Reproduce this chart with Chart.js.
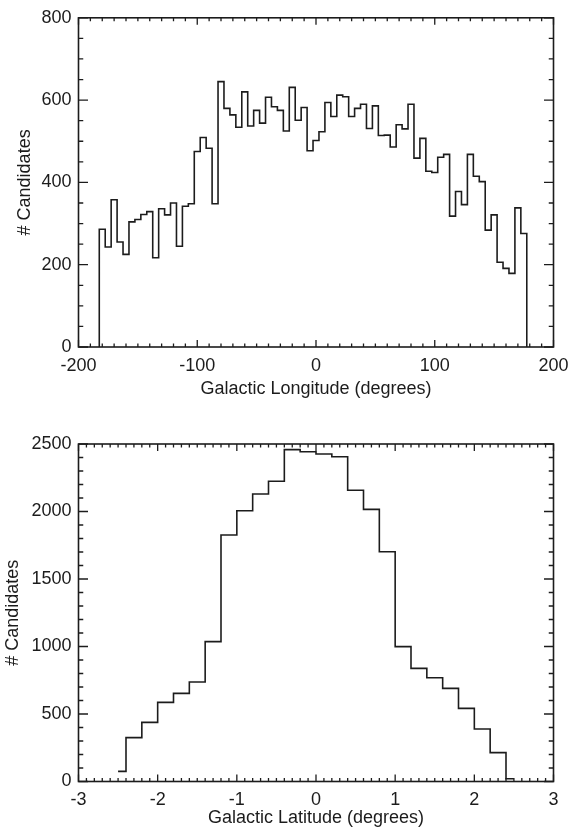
<!DOCTYPE html>
<html>
<head>
<meta charset="utf-8">
<title>Candidates by galactic longitude and latitude</title>
<script src="https://cdn.jsdelivr.net/npm/chart.js@4.4.0/dist/chart.umd.min.js"></script>
<style>
  html, body { margin: 0; padding: 0; background: #fff; overflow: hidden; }
  #wrap { position: relative; width: 580px; height: 830px; }
  canvas { position: absolute; left: 0; }
  #lonChart { top: 0; }
  #latChart { top: 400px; }
</style>
</head>
<body>
<div id="wrap">
  <canvas id="lonChart" width="580" height="400"></canvas>
  <canvas id="latChart" width="580" height="430"></canvas>
</div>
<script>
// data
const lonCenters = [
  -180, -175, -170, -165, -160, -155, -150, -145, -140, -135, -130, -125,
  -120, -115, -110, -105, -100, -95, -90, -85, -80, -75, -70, -65,
  -60, -55, -50, -45, -40, -35, -30, -25, -20, -15, -10, -5,
  0, 5, 10, 15, 20, 25, 30, 35, 40, 45, 50, 55,
  60, 65, 70, 75, 80, 85, 90, 95, 100, 105, 110, 115,
  120, 125, 130, 135, 140, 145, 150, 155, 160, 165, 170, 175
];
const lonCounts = [
  286, 243, 358, 255, 225, 304, 310, 322, 329, 217, 336, 321,
  350, 245, 342, 348, 475, 509, 483, 348, 645, 580, 564, 534,
  620, 537, 575, 544, 607, 584, 575, 525, 631, 551, 582, 477,
  502, 523, 594, 560, 612, 608, 560, 580, 590, 531, 586, 514,
  515, 486, 540, 530, 590, 459, 507, 427, 424, 461, 468, 318,
  378, 346, 468, 415, 402, 284, 321, 206, 191, 179, 338, 276
];
const lonBinWidth = 5;

const latCenters = [
  -2.5, -2.3, -2.1, -1.9, -1.7, -1.5, -1.3, -1.1, -0.9, -0.7, -0.5, -0.3, -0.1,
  0.1, 0.3, 0.5, 0.7, 0.9, 1.1, 1.3, 1.5, 1.7, 1.9, 2.1, 2.3, 2.5
];
const latCounts = [
  75, 325, 438, 586, 653, 737, 1036, 1826, 2006, 2130, 2224, 2458, 2443,
  2426, 2406, 2157, 2016, 1702, 999, 838, 769, 690, 542, 389, 214, 20
];

// axis ticks
const lonTicks = [-200, -100, 0, 100, 200];
const lonCountTicks = [0, 200, 400, 600, 800];
const latTicks = [-3, -2, -1, 0, 1, 2, 3];
const latCountTicks = [0, 500, 1000, 1500, 2000, 2500];

const INK = '#1c1c1c';
const FONT = { family: "'Liberation Sans', Arial, Helvetica, sans-serif", size: 18 };

// top plot: full bins, line drops to zero at both ends
function fullBinSteps(centers, counts, width) {
  const pts = [{ x: centers[0] - width / 2, y: 0 }];
  centers.forEach((c, i) => {
    pts.push({ x: c - width / 2, y: counts[i] });
    pts.push({ x: c + width / 2, y: counts[i] });
  });
  pts.push({ x: centers[centers.length - 1] + width / 2, y: 0 });
  return pts;
}

// bottom plot: histogram mode with half-width end bins
function halfEndSteps(centers, counts) {
  const pts = [];
  const n = centers.length;
  centers.forEach((c, i) => {
    const left = i === 0 ? c : (centers[i - 1] + c) / 2;
    const right = i === n - 1 ? c : (c + centers[i + 1]) / 2;
    pts.push({ x: left, y: counts[i] });
    pts.push({ x: right, y: counts[i] });
  });
  return pts;
}

// box around the plot with inward ticks on all four sides
const frameTicks = {
  id: 'frameTicks',
  afterDatasetsDraw(chart, args, opts) {
    const { ctx, chartArea: a } = chart;
    const x = chart.scales.x;
    const y = chart.scales.y;
    ctx.save();
    ctx.strokeStyle = INK;
    ctx.lineWidth = 1.6;
    ctx.strokeRect(a.left, a.top, a.right - a.left, a.bottom - a.top);

    ctx.lineWidth = 1.3;
    ctx.beginPath();
    const nx = Math.round((x.max - x.min) / opts.xMinor);
    for (let i = 0; i <= nx; i++) {
      const v = x.min + i * opts.xMinor;
      const px = x.getPixelForValue(v);
      const len = isMajor(v, opts.xMajor) ? opts.xLen : opts.xLen / 2;
      ctx.moveTo(px, a.bottom); ctx.lineTo(px, a.bottom - len);
      ctx.moveTo(px, a.top); ctx.lineTo(px, a.top + len);
    }
    const ny = Math.round((y.max - y.min) / opts.yMinor);
    for (let i = 0; i <= ny; i++) {
      const v = y.min + i * opts.yMinor;
      const py = y.getPixelForValue(v);
      const len = isMajor(v, opts.yMajor) ? opts.yLen : opts.yLen / 2;
      ctx.moveTo(a.left, py); ctx.lineTo(a.left + len, py);
      ctx.moveTo(a.right, py); ctx.lineTo(a.right - len, py);
    }
    ctx.stroke();
    ctx.restore();
  }
};

function isMajor(v, step) {
  const r = v / step;
  return Math.abs(r - Math.round(r)) < 1e-6;
}

// plain numbers, no thousands separator
function plainLabel(value) {
  return String(value);
}

function makeChart(id, points, cfg) {
  return new Chart(document.getElementById(id), {
    type: 'scatter',
    data: {
      datasets: [{
        data: points,
        showLine: true,
        borderColor: INK,
        borderWidth: 1.6,
        pointRadius: 0,
        pointHoverRadius: 0,
        fill: false,
        tension: 0
      }]
    },
    options: {
      responsive: false,
      animation: false,
      devicePixelRatio: 1,
      layout: { padding: { left: 0, right: 26.5, top: cfg.top, bottom: 0 } },
      plugins: {
        legend: { display: false },
        tooltip: { enabled: false },
        frameTicks: cfg.frame
      },
      scales: {
        x: {
          type: 'linear',
          min: cfg.xTicks[0],
          max: cfg.xTicks[cfg.xTicks.length - 1],
          afterBuildTicks: s => { s.ticks = cfg.xTicks.map(v => ({ value: v })); },
          afterFit: s => { s.height = cfg.xHeight; },
          ticks: { padding: 8, color: INK, font: FONT, maxRotation: 0, autoSkip: false, callback: plainLabel },
          grid: { display: false, drawTicks: false, tickLength: 0 },
          border: { display: false },
          title: {
            display: true,
            text: cfg.xTitle,
            color: INK,
            font: { ...FONT, lineHeight: 1.2 },
            padding: { top: 0, bottom: cfg.xTitlePad }
          }
        },
        y: {
          type: 'linear',
          min: cfg.yTicks[0],
          max: cfg.yTicks[cfg.yTicks.length - 1],
          afterBuildTicks: s => { s.ticks = cfg.yTicks.map(v => ({ value: v })); },
          afterFit: s => { s.width = 78.5; },
          ticks: { padding: 7, color: INK, font: FONT, callback: plainLabel },
          grid: { display: false, drawTicks: false, tickLength: 0 },
          border: { display: false },
          title: {
            display: true,
            text: '# Candidates',
            color: INK,
            font: FONT,
            padding: { top: cfg.yTitlePad, bottom: 0 }
          }
        }
      }
    },
    plugins: [frameTicks]
  });
}

makeChart('lonChart', fullBinSteps(lonCenters, lonCounts, lonBinWidth), {
  top: 11,
  xHeight: 53,
  xTitle: 'Galactic Longitude (degrees)',
  xTitlePad: 0,
  xTicks: lonTicks,
  yTicks: lonCountTicks,
  yTitlePad: 14,
  frame: { xMinor: 10, xMajor: 100, xLen: 7, yMinor: 50, yMajor: 200, yLen: 9.5 }
});

makeChart('latChart', halfEndSteps(latCenters, latCounts), {
  top: 44,
  xHeight: 48.5,
  xTitle: 'Galactic Latitude (degrees)',
  xTitlePad: 1,
  xTicks: latTicks,
  yTicks: latCountTicks,
  yTitlePad: 2,
  frame: { xMinor: 0.1, xMajor: 1, xLen: 7, yMinor: 100, yMajor: 500, yLen: 9.5 }
});
</script>
</body>
</html>
